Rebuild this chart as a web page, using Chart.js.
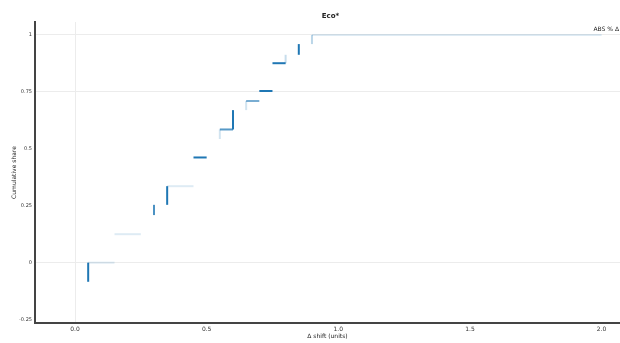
<!DOCTYPE html>
<html>
<head>
<meta charset="utf-8">
<script src="https://cdn.jsdelivr.net/npm/chart.js@4"></script>
<style>
  html, body { margin: 0; padding: 0; background: #fff; }
  #chart { display: block; }
</style>
</head>
<body>
<canvas id="chart" width="620" height="343"></canvas>
<script>
// step chart data (x where a jump happens, level after the jump)
const stepX = [0.05, 0.15, 0.25, 0.30, 0.35, 0.45, 0.50, 0.55, 0.60, 0.65, 0.70, 0.75, 0.80, 0.85, 0.90];
const levels = [0.0, 0.125, 0.209, 0.254, 0.336, 0.462, 0.543, 0.585, 0.670, 0.710, 0.754, 0.876, 0.913, 0.960, 1.0];
const startLevel = -0.084;
const endX = 2.0;

// opacity of each vertical jump and of the flat run after it
const vAlpha = [1.0, 0.0, 0.0, 0.8, 1.0, 0.0, 0.0, 0.2, 1.0, 0.2, 0.0, 0.0, 0.25, 1.0, 0.3];
const hAlpha = [0.15, 0.15, 0.0, 0.0, 0.15, 1.0, 0.0, 0.75, 0.0, 0.6, 1.0, 1.0, 0.0, 0.0, 0.15];

const xTicks = [0, 0.5, 1.0, 1.5, 2.0];
const yTicks = [-0.25, 0, 0.25, 0.5, 0.75, 1];
const yGridShown = [0, 0.75, 1];

const titleText = 'Eco*';
const legendText = 'ABS % Δ';
const xTitle = 'Δ shift (units)';
const yTitle = 'Cumulative share';

// build corner points of the stepped path
const pts = [{ x: stepX[0], y: startLevel }];
const segAlpha = [];
for (let i = 0; i < stepX.length; i++) {
  pts.push({ x: stepX[i], y: levels[i] });
  segAlpha.push(vAlpha[i]);
  const nx = i + 1 < stepX.length ? stepX[i + 1] : endX;
  pts.push({ x: nx, y: levels[i] });
  segAlpha.push(hAlpha[i]);
}

const blue = a => 'rgba(31,119,180,' + a + ')';
const font = { family: 'DejaVu Sans', size: 6 };
const tickFont = { family: 'DejaVu Sans', size: 5 };

// title and legend text drawn over the plot
const overlay = {
  id: 'overlay',
  afterDraw(chart) {
    const c = chart.ctx, a = chart.chartArea;
    c.save();
    c.fillStyle = '#222';
    c.textBaseline = 'middle';
    c.font = 'bold 7px "DejaVu Sans"';
    c.textAlign = 'center';
    c.fillText(titleText, (a.left + a.right) / 2 + 3, 16);
    c.font = '6px "DejaVu Sans"';
    c.textAlign = 'right';
    c.fillText(legendText, 619, 29);
    c.restore();
  }
};

new Chart(document.getElementById('chart').getContext('2d'), {
  type: 'line',
  data: {
    datasets: [{
      data: pts,
      borderWidth: 2,
      pointRadius: 0,
      borderColor: blue(1),
      segment: {
        borderColor: ctx => blue(segAlpha[ctx.p0DataIndex])
      }
    }]
  },
  options: {
    responsive: false,
    animation: false,
    layout: { padding: { top: 22, right: 0, left: 0, bottom: 0 } },
    plugins: { legend: { display: false }, tooltip: { enabled: false } },
    scales: {
      x: {
        type: 'linear',
        min: -0.152,
        max: 2.07,
        afterBuildTicks: s => { s.ticks = xTicks.map(v => ({ value: v })); },
        afterFit: s => { s.height = 20; },
        ticks: { font, color: '#333', padding: 3, callback: v => v.toFixed(1) },
        grid: { drawTicks: false, color: c => c.tick && c.tick.value === 0 ? '#ececec' : 'rgba(0,0,0,0)' },
        border: { display: true, color: '#444', width: 2 },
        title: { display: true, text: xTitle, font, color: '#222', padding: { top: 1, bottom: 3 } }
      },
      y: {
        min: -0.265,
        max: 1.057,
        afterBuildTicks: s => { s.ticks = yTicks.map(v => ({ value: v })); },
        afterFit: s => { s.width = 35; },
        ticks: { font: tickFont, color: '#333', padding: 3, callback: v => String(v) },
        grid: { drawTicks: false, color: c => c.tick && yGridShown.includes(c.tick.value) ? '#ececec' : 'rgba(0,0,0,0)' },
        border: { display: true, color: '#444', width: 2 },
        title: { display: true, text: yTitle, font, color: '#222', padding: { top: 11, bottom: 2 } }
      }
    }
  },
  plugins: [overlay]
});
</script>
</body>
</html>
